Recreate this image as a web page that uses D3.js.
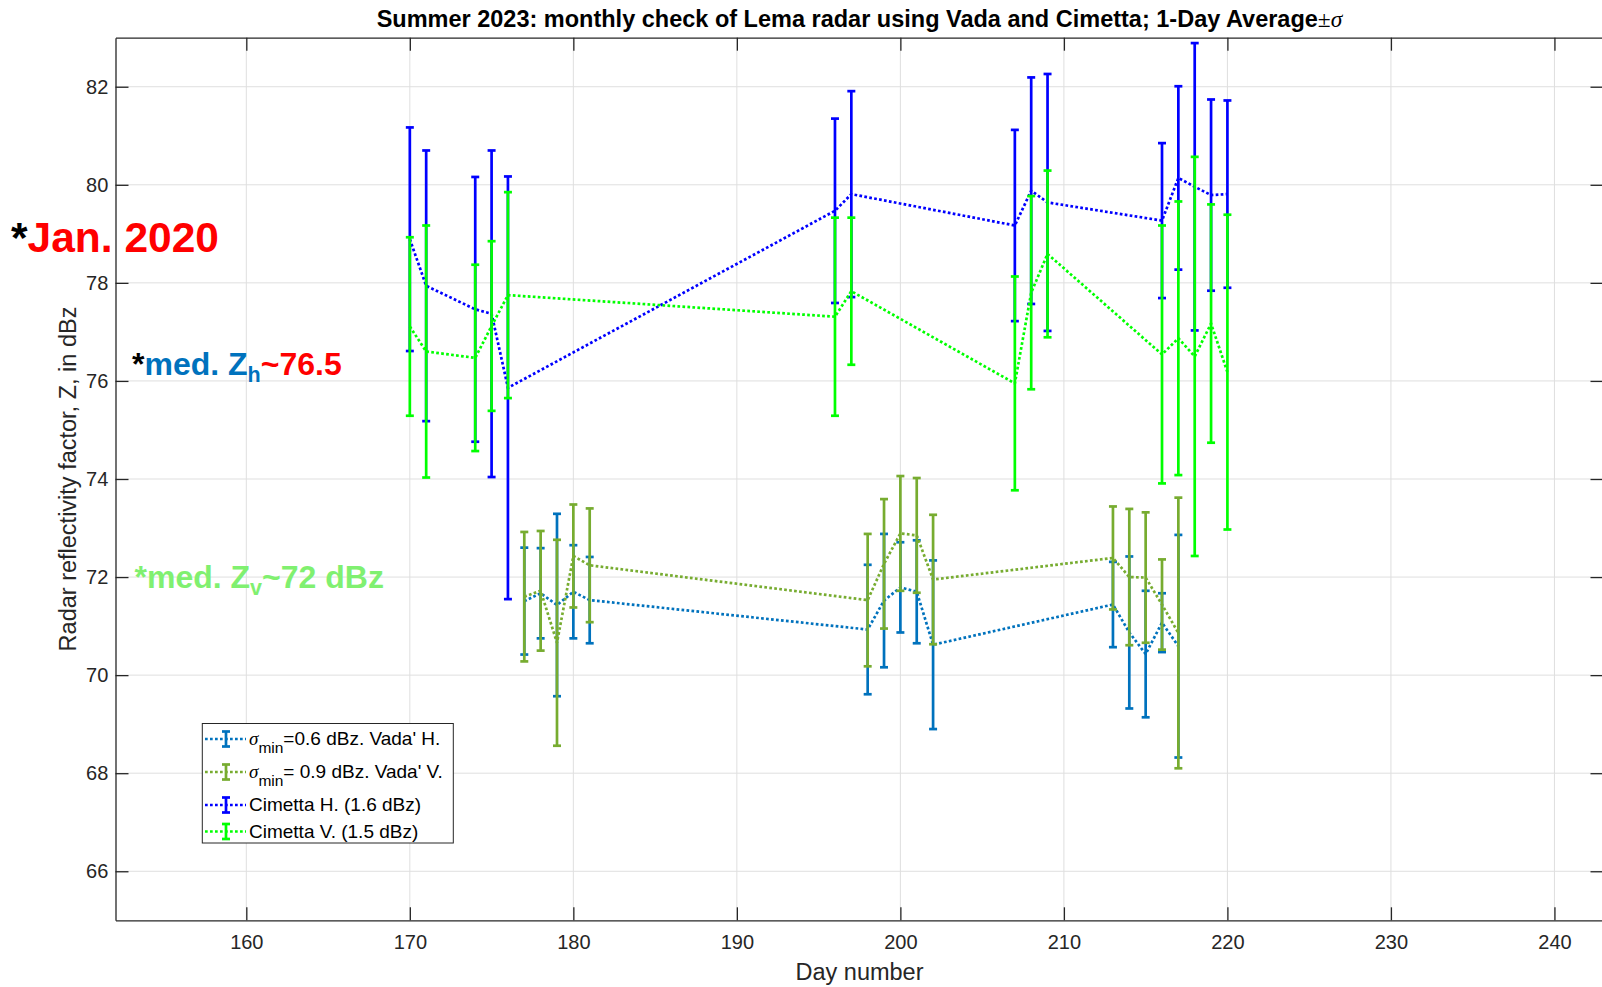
<!DOCTYPE html>
<html>
<head>
<meta charset="utf-8">
<title>Summer 2023: monthly check of Lema radar</title>
<script src="https://cdn.jsdelivr.net/npm/d3@7/dist/d3.min.js"></script>
<style>
  html, body { margin: 0; padding: 0; background: #fff; }
  svg { display: block; }
  text { font-family: "Liberation Sans", Arial, Helvetica, sans-serif; }
</style>
</head>
<body>
<svg id="chart" width="1602" height="987"></svg>
<script>
// ---- axis limits and ticks ----
const xLimits = [152, 243];
const yLimits = [65, 83];
const xTickValues = [160, 170, 180, 190, 200, 210, 220, 230, 240];
const yTickValues = [66, 68, 70, 72, 74, 76, 78, 80, 82];

// ---- Vada: 1-day average and standard deviation (dBZ) ----
const vadaDays   = [177, 178, 179, 180, 181, 198, 199, 200, 201, 202, 213, 214, 215, 216, 217];
const vadaHMean  = [71.51, 71.67, 71.43, 71.70, 71.53, 70.93, 71.52, 71.79, 71.70, 70.62, 71.44, 70.87, 70.43, 71.07, 70.59];
const vadaHSigma = [1.09, 0.92, 1.86, 0.95, 0.88, 1.32, 1.36, 0.92, 1.05, 1.72, 0.87, 1.55, 1.29, 0.60, 2.27];
const vadaVMean  = [71.60, 71.72, 70.66, 72.43, 72.24, 71.53, 72.27, 72.89, 72.85, 71.95, 72.39, 72.00, 71.99, 71.44, 70.86];
const vadaVSigma = [1.32, 1.22, 2.10, 1.05, 1.16, 1.35, 1.32, 1.17, 1.17, 1.32, 1.05, 1.39, 1.33, 0.92, 2.76];

// ---- Cimetta: 1-day average and standard deviation (dBZ) ----
const cimettaDays   = [170, 171, 174, 175, 176, 196, 197, 207, 208, 209, 216, 217, 218, 219, 220];
const cimettaHMean  = [78.89, 77.94, 77.46, 77.37, 75.86, 79.47, 79.81, 79.17, 79.88, 79.64, 79.27, 80.14, 79.96, 79.79, 79.81];
const cimettaHSigma = [2.28, 2.76, 2.70, 3.33, 4.31, 1.88, 2.10, 1.95, 2.31, 2.62, 1.58, 1.87, 2.93, 1.95, 1.91];
const cimettaVMean  = [77.11, 76.60, 76.47, 77.12, 77.75, 77.31, 77.83, 75.95, 77.80, 78.59, 76.54, 76.87, 76.50, 77.17, 76.18];
const cimettaVSigma = [1.82, 2.57, 1.90, 1.73, 2.10, 2.02, 1.50, 2.18, 1.97, 1.70, 2.63, 2.79, 4.07, 2.43, 3.21];

// ---- text ----
const titleText = "Summer 2023: monthly check of Lema radar using Vada and Cimetta; 1-Day Average";
const xLabelText = "Day number";
const yLabelText = "Radar reflectivity factor, Z, in dBz";

const series = [
  { days: vadaDays,    mean: vadaHMean,    sigma: vadaHSigma,    color: "#0072BD",
    label: [{ t: "\u03C3", greek: true }, { t: "min", sub: true }, { t: "=0.6 dBz. Vada' H." }] },
  { days: vadaDays,    mean: vadaVMean,    sigma: vadaVSigma,    color: "#77AC30",
    label: [{ t: "\u03C3", greek: true }, { t: "min", sub: true }, { t: "= 0.9 dBz. Vada' V." }] },
  { days: cimettaDays, mean: cimettaHMean, sigma: cimettaHSigma, color: "#0000FF",
    label: [{ t: "Cimetta H. (1.6 dBz)" }] },
  { days: cimettaDays, mean: cimettaVMean, sigma: cimettaVSigma, color: "#00FF00",
    label: [{ t: "Cimetta V. (1.5 dBz)" }] }
];

// ---- layout ----
const FONT = '"Liberation Sans", Arial, Helvetica, sans-serif';
const SERIF = '"Liberation Serif", "DejaVu Serif", serif';
const AX = "#262626";
const box = { left: 115.5, right: 1603.5, top: 37.7, bottom: 920.3 };
const tickLen = 13;

const svg = d3.select("#chart");
svg.append("rect").attr("width", 1602).attr("height", 987).attr("fill", "#fff");

const x = d3.scaleLinear().domain(xLimits).range([box.left, box.right]);
const y = d3.scaleLinear().domain(yLimits).range([box.bottom, box.top]);

// grid
const grid = svg.append("g").attr("stroke", "#dfdfdf").attr("stroke-width", 1);
grid.selectAll("line.gx").data(xTickValues).join("line").attr("class", "gx")
  .attr("x1", d => x(d)).attr("x2", d => x(d)).attr("y1", box.top).attr("y2", box.bottom);
grid.selectAll("line.gy").data(yTickValues).join("line").attr("class", "gy")
  .attr("x1", box.left).attr("x2", box.right).attr("y1", d => y(d)).attr("y2", d => y(d));

// axes (ticks point inward, box on all four sides)
function styleAxis(g) {
  g.attr("font-family", FONT).attr("font-size", 20);
  g.select(".domain").attr("stroke", AX).attr("stroke-width", 1.3);
  g.selectAll(".tick line").attr("stroke", AX).attr("stroke-width", 1.3);
  g.selectAll(".tick text").attr("fill", AX);
}
svg.append("g").attr("transform", `translate(0,${box.bottom})`)
  .call(d3.axisBottom(x).tickValues(xTickValues).tickSizeInner(-tickLen).tickSizeOuter(0).tickPadding(14.8))
  .call(styleAxis);
svg.append("g").attr("transform", `translate(0,${box.top})`)
  .call(d3.axisTop(x).tickValues(xTickValues).tickSizeInner(-tickLen).tickSizeOuter(0).tickFormat(""))
  .call(styleAxis);
svg.append("g").attr("transform", `translate(${box.left},0)`)
  .call(d3.axisLeft(y).tickValues(yTickValues).tickSizeInner(-tickLen).tickSizeOuter(0).tickPadding(7.2))
  .call(styleAxis);
svg.append("g").attr("transform", `translate(${box.right},0)`)
  .call(d3.axisRight(y).tickValues(yTickValues).tickSizeInner(-tickLen).tickSizeOuter(0).tickFormat(""))
  .call(styleAxis);

// series: dotted line through the daily means, plus ±σ error bars
const lineGen = d3.line().x(d => x(d.day)).y(d => y(d.mean));
const capHalf = 4;
series.forEach(s => {
  const pts = s.days.map((d, i) => ({ day: d, mean: s.mean[i], sigma: s.sigma[i] }));
  const g = svg.append("g");
  g.append("path").datum(pts).attr("d", lineGen)
    .attr("fill", "none").attr("stroke", s.color).attr("stroke-width", 2.7)
    .attr("stroke-dasharray", "2.7 2.3");
  const bars = g.selectAll("g.bar").data(pts).join("g").attr("class", "bar")
    .attr("stroke", s.color).attr("stroke-width", 2.7);
  bars.append("line")
    .attr("x1", d => x(d.day)).attr("x2", d => x(d.day))
    .attr("y1", d => y(d.mean + d.sigma)).attr("y2", d => y(d.mean - d.sigma));
  bars.append("line")
    .attr("x1", d => x(d.day) - capHalf).attr("x2", d => x(d.day) + capHalf)
    .attr("y1", d => y(d.mean + d.sigma)).attr("y2", d => y(d.mean + d.sigma));
  bars.append("line")
    .attr("x1", d => x(d.day) - capHalf).attr("x2", d => x(d.day) + capHalf)
    .attr("y1", d => y(d.mean - d.sigma)).attr("y2", d => y(d.mean - d.sigma));
});

// title
const title = svg.append("text")
  .attr("x", (box.left + box.right) / 2).attr("y", 27)
  .attr("text-anchor", "middle").attr("font-size", 23.5).attr("font-weight", "bold")
  .attr("fill", "#000").attr("font-family", FONT);
title.append("tspan").text(titleText);
title.append("tspan").attr("font-family", SERIF).attr("font-weight", "normal").text("\u00B1");
title.append("tspan").attr("font-family", SERIF).attr("font-weight", "normal")
  .attr("font-style", "italic").text("\u03C3");

// axis labels
svg.append("text").attr("x", (box.left + box.right) / 2).attr("y", 980)
  .attr("text-anchor", "middle").attr("font-size", 23.5).attr("fill", AX).text(xLabelText);
svg.append("text").attr("transform", "translate(75.5,479) rotate(-90)")
  .attr("text-anchor", "middle").attr("font-size", 23.5).attr("fill", AX).text(yLabelText);

// legend
const legend = svg.append("g");
legend.append("rect").attr("x", 202.3).attr("y", 723.5).attr("width", 251).attr("height", 119.5)
  .attr("fill", "#fff").attr("stroke", AX).attr("stroke-width", 1);
const legendBaselines = [745, 778, 811, 837.5];
series.forEach((s, i) => {
  const by = legendBaselines[i];
  const cy = by - 6;
  legend.append("line").attr("x1", 205).attr("x2", 246).attr("y1", cy).attr("y2", cy)
    .attr("stroke", s.color).attr("stroke-width", 2.7).attr("stroke-dasharray", "2.7 2.3");
  const eb = legend.append("g").attr("stroke", s.color).attr("stroke-width", 2.7);
  eb.append("line").attr("x1", 226).attr("x2", 226).attr("y1", cy - 7.5).attr("y2", cy + 7.5);
  eb.append("line").attr("x1", 222).attr("x2", 230).attr("y1", cy - 7.5).attr("y2", cy - 7.5);
  eb.append("line").attr("x1", 222).attr("x2", 230).attr("y1", cy + 7.5).attr("y2", cy + 7.5);
  const t = legend.append("text").attr("x", 249).attr("y", by).attr("font-size", 19).attr("fill", "#000");
  let shift = 0;
  s.label.forEach(p => {
    const sp = t.append("tspan").text(p.t);
    if (p.greek) sp.attr("font-family", SERIF).attr("font-style", "italic");
    if (p.sub) { sp.attr("font-size", 15.5).attr("dy", 7.5); shift = 7.5; }
    else if (shift) { sp.attr("dy", -shift); shift = 0; }
  });
});

// annotations left of the axes
const jan = svg.append("text").attr("x", 11).attr("y", 251.5)
  .attr("font-size", 42.5).attr("font-weight", "bold");
jan.append("tspan").attr("fill", "#000").text("*");
jan.append("tspan").attr("fill", "#ff0000").text("Jan. 2020");

const medH = svg.append("text").attr("x", 132).attr("y", 375)
  .attr("font-size", 32).attr("font-weight", "bold");
medH.append("tspan").attr("fill", "#000").text("*");
medH.append("tspan").attr("fill", "#0072BD").text("med. Z");
medH.append("tspan").attr("fill", "#0072BD").attr("font-size", 21.5).attr("dy", 6.7).text("h");
medH.append("tspan").attr("fill", "#ff0000").attr("dy", -6.7).text("~76.5");

const medV = svg.append("text").attr("x", 134.5).attr("y", 588.3)
  .attr("font-size", 32).attr("font-weight", "bold").attr("fill", "#80f070");
medV.append("tspan").text("*med. Z");
medV.append("tspan").attr("font-size", 21.5).attr("dy", 6.7).text("v");
medV.append("tspan").attr("dy", -6.7).text("~72 dBz");
</script>
</body>
</html>
